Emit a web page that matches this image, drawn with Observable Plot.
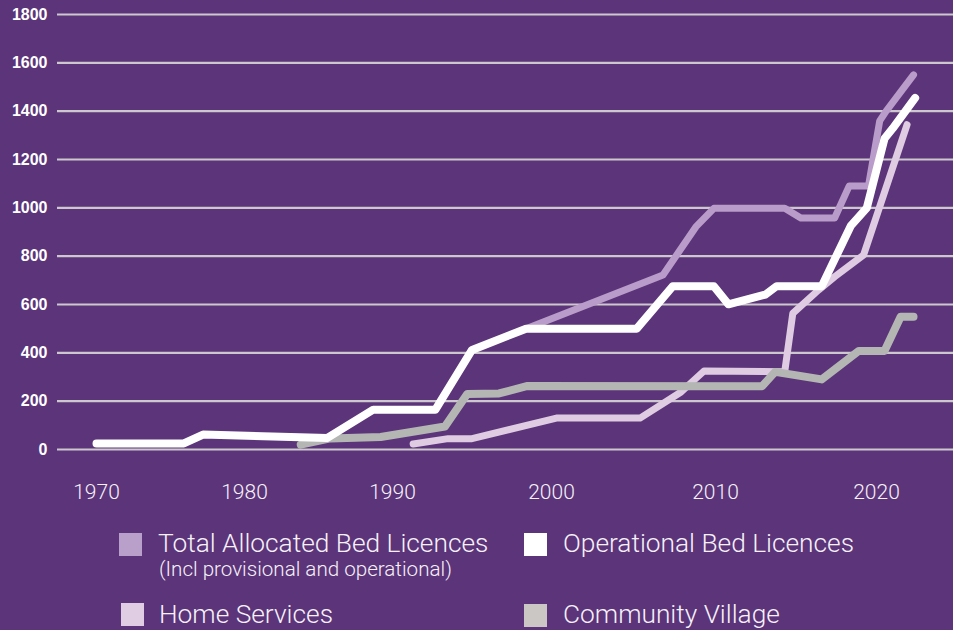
<!DOCTYPE html>
<html><head><meta charset="utf-8">
<script src="https://cdn.jsdelivr.net/npm/d3@7"></script>
<script src="https://cdn.jsdelivr.net/npm/@observablehq/plot@0.6"></script>
<style>
html,body{margin:0;padding:0;background:#5b3479;}
#wrap{position:relative;width:953px;height:630px;overflow:hidden;background:#5b3479;}
#legend{position:relative;width:953px;height:110px;}
.sw{position:absolute;width:23px;height:23px;}
.lt{position:absolute;font-family:Roboto,"Open Sans",sans-serif;font-weight:300;color:#f6f1f8;white-space:nowrap;line-height:1;}
</style></head><body><div id="wrap"></div>
<script>
// ---- data ----
const yearTicks = [1970, 1980, 1990, 2000, 2010, 2020];
const valueTicks = [0, 200, 400, 600, 800, 1000, 1200, 1400, 1600, 1800];

const totalYears  = [1998.4, 2006.8, 2008.8, 2009.9, 2014.3, 2015.3, 2017.4, 2018.3, 2019.5, 2020.2, 2020.6, 2022.3];
const totalValues = [500, 722, 921, 998, 998, 958, 958, 1090, 1090, 1360, 1400, 1550];

const operationalYears  = [1970, 1975.9, 1977.2, 1985.6, 1988.7, 1992.7, 1995.0, 1998.4, 2005.2, 2007.4, 2009.9, 2010.8, 2013.1, 2013.8, 2016.6, 2018.4, 2019.4, 2020.5, 2021.0, 2022.4];
const operationalValues = [25, 25, 62, 48, 165, 165, 412, 500, 500, 676, 676, 601, 641, 676, 676, 925, 1000, 1287, 1328, 1455];

const homeYears  = [1991.3, 1993.5, 1995.0, 2000.3, 2005.4, 2007.9, 2009.3, 2014.3, 2014.8, 2016.4, 2017.4, 2019.2, 2021.9];
const homeValues = [23, 45, 45, 130, 130, 238, 325, 322, 563, 660, 715, 805, 1344];

const communityYears  = [1983.8, 1985.8, 1989.2, 1993.3, 1994.7, 1996.7, 1998.5, 2012.9, 2013.7, 2016.6, 2018.9, 2020.5, 2021.5, 2022.3];
const communityValues = [20, 46, 52, 95, 230, 232, 263, 262, 321, 290, 408, 408, 549, 549];

const seriesNames = ["Total Allocated Bed Licences", "Operational Bed Licences", "Home Services", "Community Village"];
const seriesNote = "(Incl provisional and operational)";
const lineColors = ["#b99cc9", "#ffffff", "#dfcce3", "#b4b6b4"];
const swatchColors = ["#b9a0cb", "#ffffff", "#e0cde4", "#cac7c4"];

// ---- build tables ----
const toRows = (ys, vs) => ys.map((y, i) => ({year: y, value: vs[i]}));
const total = toRows(totalYears, totalValues);
const operational = toRows(operationalYears, operationalValues);
const home = toRows(homeYears, homeValues);
const community = toRows(communityYears, communityValues);

const lineOpts = (color, w) => ({x: "year", y: "value", stroke: color, strokeWidth: w, strokeLinecap: "round", strokeLinejoin: "round"});

const chart = Plot.plot({
  width: 953,
  height: 520,
  marginLeft: 57,
  marginRight: 0,
  marginTop: 14,
  marginBottom: 71,
  style: {background: "#5b3479", color: "#ffffff", fontFamily: "Liberation Sans, Arial, sans-serif", overflow: "visible"},
  x: {type: "linear", domain: [1970, 1980, 1990, 2000, 2010, 2020, 2030], range: [96, 244, 392, 551, 715, 876, 1037], label: null},
  y: {domain: [0, 1800], label: null},
  marks: [
    Plot.ruleY(valueTicks, {stroke: "#cdc8ce", strokeWidth: 2.2}),
    Plot.line(total, lineOpts(lineColors[0], 7)),
    Plot.line(home, lineOpts(lineColors[2], 7)),
    Plot.line(community, lineOpts(lineColors[3], 8)),
    Plot.line(operational, lineOpts(lineColors[1], 8)),
    Plot.axisY(valueTicks, {label: null, tickSize: 0, tickPadding: 10, fontSize: 16, fontWeight: "bold", fontFamily: "Liberation Sans, Arial, sans-serif", fill: "#ffffff", tickFormat: d => String(d)}),
    Plot.axisX(yearTicks, {label: null, tickSize: 0, tickPadding: 35, fontSize: 21, fontWeight: 300, fontFamily: "Roboto, sans-serif", fill: "#f6f1f8", tickFormat: d => String(d)})
  ]
});

const wrap = document.getElementById("wrap");
wrap.appendChild(chart);

// ---- legend (HTML, below the SVG) ----
const legend = document.createElement("div");
legend.id = "legend";
wrap.appendChild(legend);
const base = 520;
const legendLayout = [
  {sx: 119, sy: 533, tx: 158, ty: 530},
  {sx: 524, sy: 533, tx: 563, ty: 530},
  {sx: 121, sy: 603, tx: 159, ty: 601},
  {sx: 524, sy: 604, tx: 563, ty: 601}
];
seriesNames.forEach((name, i) => {
  const L = legendLayout[i];
  const sw = document.createElement("div");
  sw.className = "sw";
  sw.style.left = L.sx + "px";
  sw.style.top = (L.sy - base) + "px";
  sw.style.background = swatchColors[i];
  legend.appendChild(sw);
  const t = document.createElement("div");
  t.className = "lt";
  t.style.left = L.tx + "px";
  t.style.top = (L.ty - base) + "px";
  t.style.fontSize = "26.3px";
  t.textContent = name;
  legend.appendChild(t);
});
const note = document.createElement("div");
note.className = "lt";
note.style.left = "159px";
note.style.top = (559 - base) + "px";
note.style.fontSize = "20.6px";
note.textContent = seriesNote;
legend.appendChild(note);
</script>
</body></html>
